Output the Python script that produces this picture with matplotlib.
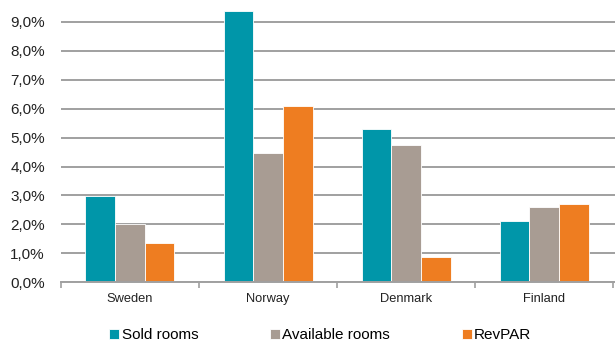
import matplotlib.pyplot as plt
import numpy as np
from matplotlib.ticker import FuncFormatter

# Data
countries = ["Sweden", "Norway", "Denmark", "Finland"]
sold_rooms = [2.97, 9.38, 5.3, 2.11]
available_rooms = [2.0, 4.47, 4.75, 2.6]
revpar = [1.35, 6.08, 0.88, 2.7]

series_names = ["Sold rooms", "Available rooms", "RevPAR"]
colors = ["#0096A9", "#A89C93", "#EE7D21"]

plt.rcParams["font.family"] = ["Liberation Sans", "DejaVu Sans"]

fig = plt.figure(figsize=(6.15, 3.42), dpi=100)
ax = fig.add_axes([0.099, 0.175, 0.905, 0.803])

x = np.arange(len(countries))
width = 0.215
for i, (vals, name, col) in enumerate(zip([sold_rooms, available_rooms, revpar], series_names, colors)):
    ax.bar(x + (i - 1) * width, vals, width, color=col, label=name,
           edgecolor="white", linewidth=0.6, zorder=3)

ax.set_xlim(-0.5, len(countries) - 0.47)
ax.set_ylim(0, 9.5)
ax.set_yticks(np.arange(0, 10, 1))
ax.yaxis.set_major_formatter(FuncFormatter(lambda v, p: f"{v:.1f}%".replace(".", ",")))
ax.grid(axis="y", color="#A0A0A0", linewidth=1.4, zorder=0)
ax.tick_params(axis="y", length=0, labelsize=11, colors="#222222", pad=11.5)

# category ticks at the boundaries, labels centered
ax.set_xticks(np.arange(-0.5, len(countries), 1))
ax.set_xticklabels([])
ax.set_xticks(x, minor=True)
ax.set_xticklabels(countries, minor=True, fontsize=9.3, color="#222222")
ax.tick_params(axis="x", which="major", length=4, color="#A0A0A0", width=1.2)
ax.tick_params(axis="x", which="minor", length=0, pad=8)

for side in ["top", "right", "left"]:
    ax.spines[side].set_visible(False)
ax.spines["bottom"].set_color("#A0A0A0")
ax.spines["bottom"].set_linewidth(1.4)
ax.spines["bottom"].set_zorder(4)

fig.legend(loc="center", ncol=3, frameon=False, fontsize=11,
           bbox_to_anchor=(0.521, 0.02), handlelength=0.65, handleheight=0.65,
           handletextpad=0.15, columnspacing=4.7, borderpad=0)

fig.savefig("out.png", dpi=100)
